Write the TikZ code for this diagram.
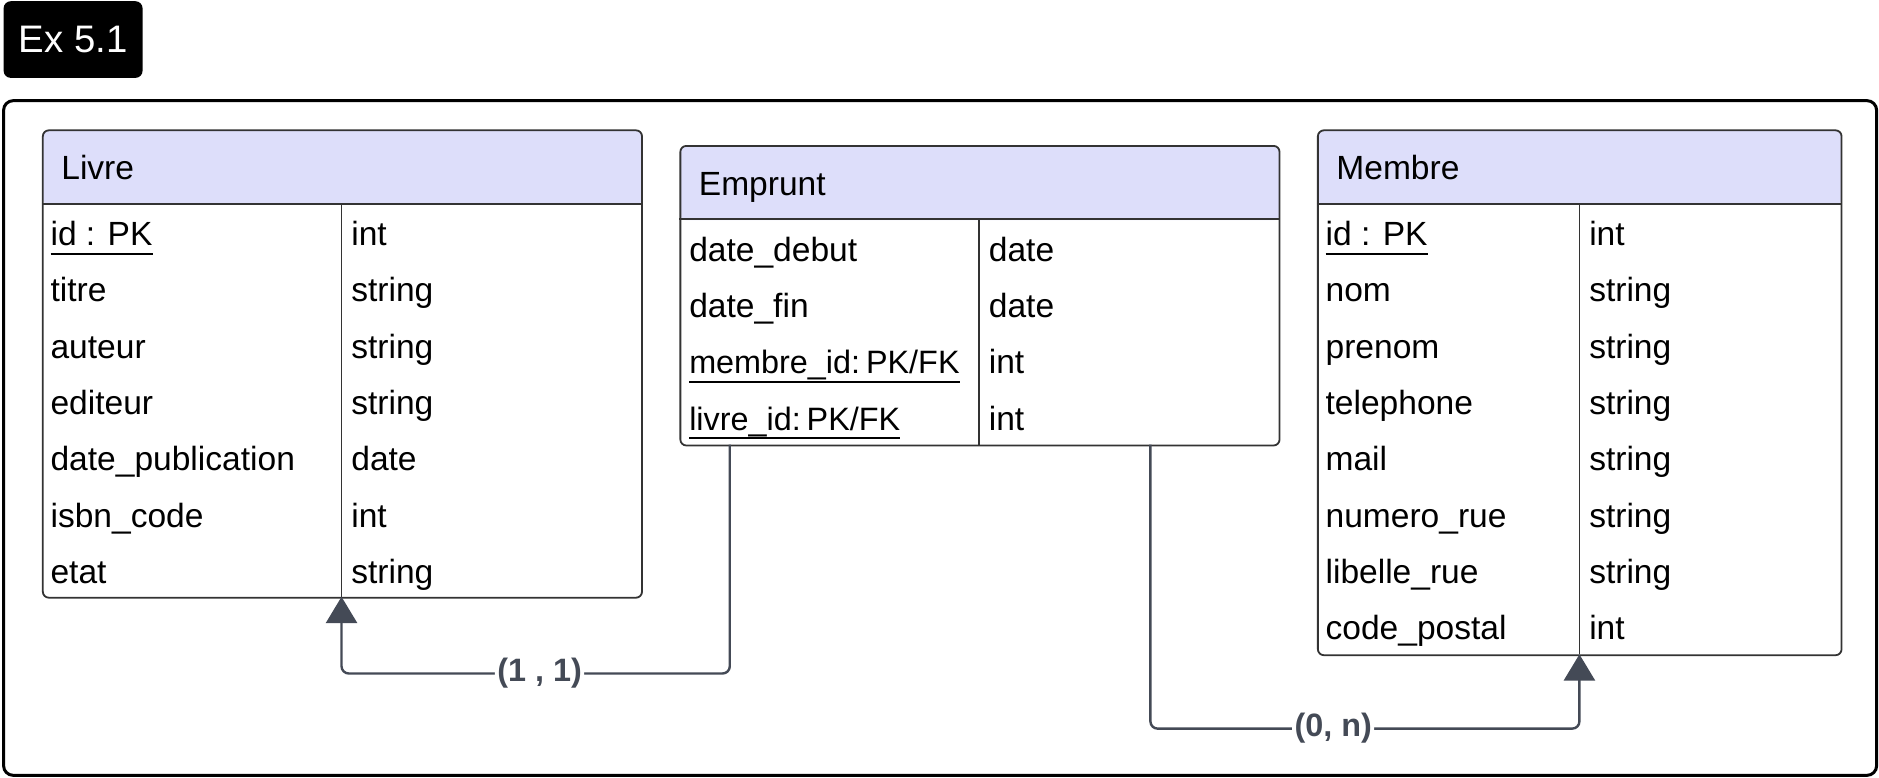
\documentclass[tikz,border=0pt]{standalone}
\usepackage{fontspec}
\setmainfont{Liberation Sans}
\usetikzlibrary{arrows.meta}

\definecolor{hdrfill}{RGB}{221,222,250}
\definecolor{tblline}{RGB}{51,51,51}
\definecolor{relline}{RGB}{68,74,86}
% key attribute: text with a thick underline
\newcommand\pkey[1]{\setbox0\hbox{#1}\rlap{\usebox0}\rule[-7.6pt]{\wd0}{1.8pt}}

\tikzset{
  tbl/.style={draw=tblline, line width=1.5pt, rounded corners=5pt, anchor=north west,
    inner sep=0pt,
    path picture={\fill[hdrfill] (path picture bounding box.north west)
      rectangle ([yshift=-62pt]path picture bounding box.north east);}},
  sep/.style={draw=tblline, line width=1.5pt},
  attr/.style={anchor=base west, inner sep=0pt, font=\fontsize{28}{33}\selectfont},
  fk/.style={attr, font=\fontsize{27}{33}\selectfont},
  rel/.style={draw=relline, line width=2pt, rounded corners=6pt,
    -{Triangle[length=22pt,width=26pt]}},
  card/.style={fill=white, inner sep=2pt, text=relline,
    font=\bfseries\fontsize{27}{32}\selectfont}
}

\begin{document}
\begin{tikzpicture}[x=1pt,y=-1pt]
\useasboundingbox (0,0) rectangle (1568,649);
% title tag and frame
\node[fill=black, rounded corners=6pt, minimum width=116pt, minimum height=64pt,
  text=white, font=\fontsize{32}{38}\selectfont] (tag) at (61,33) {Ex 5.1};
\draw[line width=2.5pt, rounded corners=8pt] (3,84) rectangle (1566,647);

% Livre
\node[tbl, minimum width=500pt, minimum height=390pt] (livre) at (35,108) {};
\draw[sep] (35,170) -- (535,170);
\draw[sep] (285,170) -- (285,498);
\node[attr] (livre-h) at (51,150) {Livre};
\node[attr] (livre-a1) at (42,205) {\pkey{id : PK}};
\node[attr] (livre-t1) at (293,205) {int};
\node[attr] (livre-a2) at (42,252) {titre};
\node[attr] (livre-t2) at (293,252) {string};
\node[attr] (livre-a3) at (42,299) {auteur};
\node[attr] (livre-t3) at (293,299) {string};
\node[attr] (livre-a4) at (42,346) {editeur};
\node[attr] (livre-t4) at (293,346) {string};
\node[attr] (livre-a5) at (42,393) {date\_publication};
\node[attr] (livre-t5) at (293,393) {date};
\node[attr] (livre-a6) at (42,440) {isbn\_code};
\node[attr] (livre-t6) at (293,440) {int};
\node[attr] (livre-a7) at (42,487) {etat};
\node[attr] (livre-t7) at (293,487) {string};
\coordinate (livre-fk) at (285,498);

% Emprunt
\node[tbl, minimum width=500pt, minimum height=250pt] (emprunt) at (567,121) {};
\draw[sep] (567,183) -- (1067,183);
\draw[sep] (817,183) -- (817,371);
\node[attr] (emp-h) at (583,163) {Emprunt};
\node[attr] (emp-a1) at (575,218) {date\_debut};
\node[attr] (emp-t1) at (825,218) {date};
\node[attr] (emp-a2) at (575,265) {date\_fin};
\node[attr] (emp-t2) at (825,265) {date};
\node[fk] (emp-a3) at (575,312) {\pkey{membre\_id:\hspace{5pt}PK/FK}};
\node[attr] (emp-t3) at (825,312) {int};
\node[fk] (emp-a4) at (575,359) {\pkey{livre\_id:\hspace{5pt}PK/FK}};
\node[attr] (emp-t4) at (825,359) {int};
\coordinate (emp-l) at (609,371);
\coordinate (emp-m) at (960,371);

% Membre
\node[tbl, minimum width=437pt, minimum height=438pt] (membre) at (1099,108) {};
\draw[sep] (1099,170) -- (1536,170);
\draw[sep] (1318,170) -- (1318,546);
\node[attr] (mem-h) at (1115,150) {Membre};
\node[attr] (mem-a1) at (1106,205) {\pkey{id : PK}};
\node[attr] (mem-t1) at (1326,205) {int};
\node[attr] (mem-a2) at (1106,252) {nom};
\node[attr] (mem-t2) at (1326,252) {string};
\node[attr] (mem-a3) at (1106,299) {prenom};
\node[attr] (mem-t3) at (1326,299) {string};
\node[attr] (mem-a4) at (1106,346) {telephone};
\node[attr] (mem-t4) at (1326,346) {string};
\node[attr] (mem-a5) at (1106,393) {mail};
\node[attr] (mem-t5) at (1326,393) {string};
\node[attr] (mem-a6) at (1106,440) {numero\_rue};
\node[attr] (mem-t6) at (1326,440) {string};
\node[attr] (mem-a7) at (1106,487) {libelle\_rue};
\node[attr] (mem-t7) at (1326,487) {string};
\node[attr] (mem-a8) at (1106,534) {code\_postal};
\node[attr] (mem-t8) at (1326,534) {int};
\coordinate (membre-fk) at (1318,546);

% relations
\draw[rel] (emp-l) -- ++(0,191) -| node[card, pos=0.245] {(1 , 1)} (livre-fk);
\draw[rel] (emp-m) -- ++(0,237) -| node[card, pos=0.213] {(0, n)} (membre-fk);
\end{tikzpicture}
\end{document}
